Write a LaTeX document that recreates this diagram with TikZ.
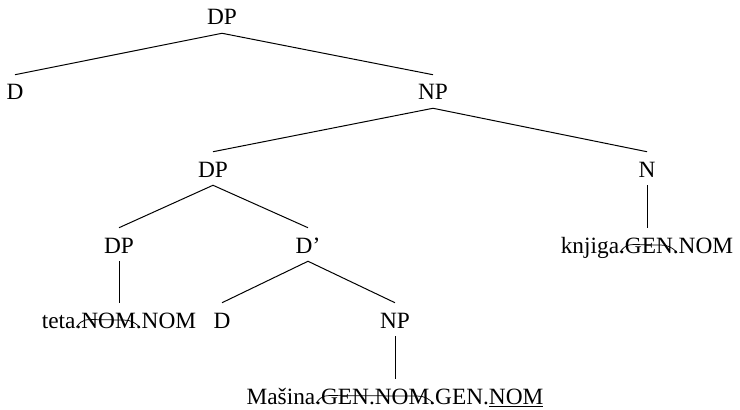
\documentclass[tikz,border=0pt]{standalone}
\usepackage{fontspec}
\setmainfont{Liberation Serif}
\newsavebox\strikebox
% a curved cross-out stroke over a case label, running from dot to dot
\newcommand\struck[1]{%
  \sbox\strikebox{#1}%
  \rlap{\usebox\strikebox}%
  \tikz[baseline=0pt]{%
    \useasboundingbox (0pt,0pt) rectangle (\wd\strikebox,0pt);
    \draw[line width=0.55pt] (-0.22em,0.03em)
      .. controls (0.05em,0.42em) and (0.25em,0.36em) .. (0.6em,0.36em)
      -- (\wd\strikebox-0.5em,0.34em)
      .. controls (\wd\strikebox-0.2em,0.33em) and (\wd\strikebox-0.05em,0.25em) .. (\wd\strikebox+0.18em,0.02em);
  }}
\begin{document}
\begin{tikzpicture}[x=0.75pt,y=-0.75pt,
  lbl/.style={inner sep=0pt,anchor=base,text height=18.75pt,text depth=6pt,
    font=\fontsize{17.5}{20}\selectfont},
  branch/.style={line width=0.75pt}]
\useasboundingbox (0,0) rectangle (740,410);

\node[lbl] (dp0) at (222,25) {DP};
\node[lbl] (d1) at (15,100) {D};
\node[lbl] (np1) at (433,100) {NP};
\node[lbl] (dp2) at (213,177) {DP};
\node[lbl] (n2) at (647,177) {N};
\node[lbl] (dp3) at (119,253) {DP};
\node[lbl] (dbar) at (308,253) {D’};
\node[lbl] (knjiga) at (647,253) {knjiga.\struck{GEN}.NOM};
\node[lbl] (teta) at (119,328) {teta.\struck{NOM}.NOM};
\node[lbl] (d4) at (222,328) {D};
\node[lbl] (np4) at (395,328) {NP};
\node[lbl] (masina) at (395,404) {Mašina.\struck{GEN.NOM}.GEN.\underline{NOM}};

\draw[branch] (d1.north) -- (dp0.south) -- (np1.north);
\draw[branch] (dp2.north) -- (np1.south) -- (n2.north);
\draw[branch] (dp3.north) -- (dp2.south) -- (dbar.north);
\draw[branch] (n2.south) -- (knjiga.north);
\draw[branch] (dp3.south) -- (teta.north);
\draw[branch] (d4.north) -- (dbar.south) -- (np4.north);
\draw[branch] (np4.south) -- (masina.north);
\end{tikzpicture}
\end{document}
